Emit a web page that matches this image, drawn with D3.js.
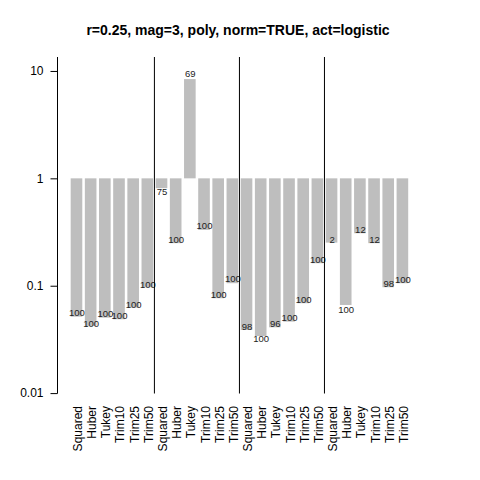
<!DOCTYPE html>
<html><head><meta charset="utf-8">
<script src="https://cdn.jsdelivr.net/npm/d3@7"></script>
<style>body{margin:0;background:#fff}svg{display:block;font-family:"Liberation Sans",Arial,sans-serif}</style>
</head><body><div id="chart"></div>
<script>
const title = "r=0.25, mag=3, poly, norm=TRUE, act=logistic";
const methods = ["Squared","Huber","Tukey","Trim10","Trim25","Trim50"];
const nGroups = 4;
const categories = d3.range(nGroups).flatMap(() => methods);
const values = [0.0515,0.0422,0.0504,0.0487,0.0625,0.0968,
                0.810,0.249,8.40,0.331,0.0765,0.1055,
                0.0387,0.0340,0.0410,0.0463,0.0687,0.162,
                0.252,0.0662,0.308,0.249,0.0968,0.1055];
const labelValues = [0.0562,0.0447,0.0546,0.0523,0.0662,0.1033,
                     0.744,0.271,9.36,0.361,0.0821,0.1157,
                     0.0417,0.0319,0.0441,0.0501,0.0749,0.1766,
                     0.271,0.0604,0.331,0.267,0.104,0.1132];
const labels = ["100","100","100","100","100","100",
                "75","100","69","100","100","100",
                "98","100","96","100","100","100",
                "2","100","12","12","98","100"];
const yTicks = [0.01,0.1,1,10];
const yTickLabels = ["0.01","0.1","1","10"];

const W = 480, H = 480;
const svg = d3.select("#chart").append("svg").attr("width",W).attr("height",H);

const y = d3.scaleLog().domain([0.01, Math.pow(10,1.13)]).range([393.1, 57]);
const idx = d3.range(values.length);
const x = d3.scaleBand().domain(idx).range([69.4, 69.4 + 24*14.17]).padding(0);
const bw = x.bandwidth()*0.82;
const cx = i => x(i) + x.bandwidth()/2;

// title
svg.append("text").attr("x",238).attr("y",35).attr("text-anchor","middle")
  .attr("font-size",14).attr("font-weight","bold").text(title);

// bars
svg.append("g").selectAll("rect").data(idx).join("rect")
  .attr("x", i => cx(i)-bw/2)
  .attr("width", bw)
  .attr("y", i => Math.min(y(values[i]), y(1)))
  .attr("height", i => Math.abs(y(values[i]) - y(1)))
  .attr("fill","#bebebe");

// value labels
svg.append("g").selectAll("text").data(idx).join("text")
  .attr("x", i => cx(i)+0.5)
  .attr("y", i => y(labelValues[i]))
  .attr("dy","0.35em")
  .attr("text-anchor","middle")
  .attr("font-size",9.5).attr("fill","#222")
  .text(i => labels[i]);

// group separators
const seps = d3.range(1,nGroups).map(g => (x(g*6-1)+x.bandwidth() + x(g*6))/2);
svg.append("g").selectAll("line").data(seps).join("line")
  .attr("x1",d=>d).attr("x2",d=>d).attr("y1",57).attr("y2",393.5)
  .attr("stroke","#000").attr("stroke-width",1);

// y axis
const ax = svg.append("g").attr("transform","translate(57.5,0)")
  .call(d3.axisLeft(y).tickValues(yTicks).tickFormat((d,i)=>yTickLabels[i]).tickSize(7).tickPadding(7));
ax.select(".domain").attr("d","M0,57V393.5").attr("stroke","#000");
ax.selectAll(".tick line").attr("stroke","#000");
ax.selectAll(".tick text").attr("font-size",12).attr("fill","#000")
  .attr("font-family","Liberation Sans, Arial, sans-serif");

// x labels (rotated)
svg.append("g").selectAll("text").data(idx).join("text")
  .attr("transform", i => `translate(${cx(i)+1.5},406) rotate(-90)`)
  .attr("text-anchor","end").attr("dominant-baseline","central")
  .attr("font-size",12).attr("fill","#000")
  .text(i => categories[i]);
</script></body></html>
